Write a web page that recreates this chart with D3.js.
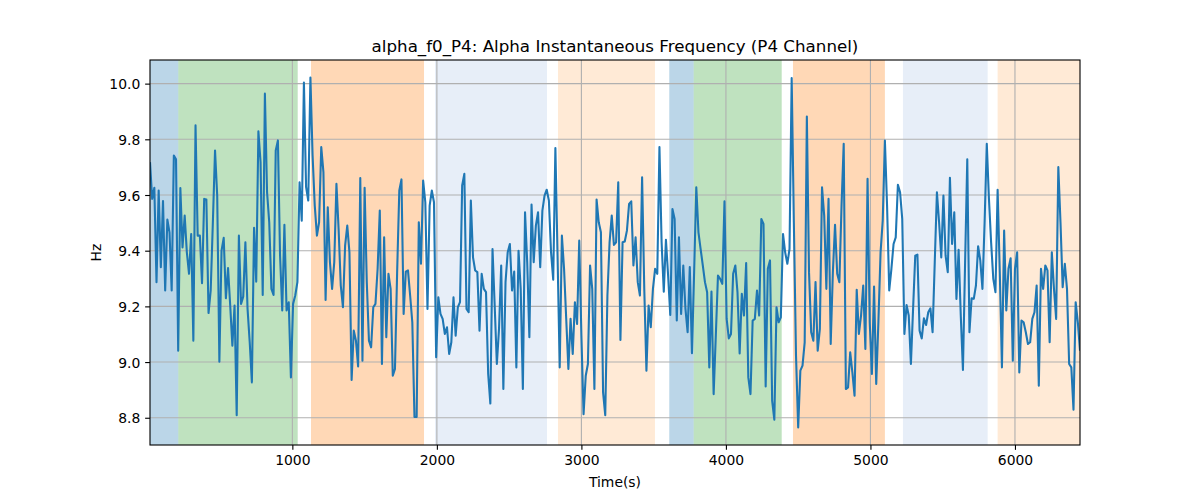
<!DOCTYPE html>
<html><head><meta charset="utf-8">
<script src="https://cdn.jsdelivr.net/npm/d3@7"></script>
<style>
body{margin:0;background:#fff}
svg{display:block}
text{font-family:"DejaVu Sans",sans-serif;fill:#000}
</style>
</head><body>
<svg id="chart" width="1200" height="500"></svg>
<script>
// ---- data ----
const titleText = "alpha_f0_P4: Alpha Instantaneous Frequency (P4 Channel)";
const xLabel = "Time(s)";
const yLabel = "Hz";
const T0 = 15;   // first sample time (s)
const DT = 15;   // sample step (s)
const values = [
9.718,9.586,9.626,9.287,9.616,9.341,9.578,9.257,9.512,9.466,
9.257,9.742,9.728,9.041,9.625,9.412,9.526,9.394,9.317,9.460,
9.077,9.850,9.454,9.454,9.283,9.586,9.584,9.176,9.257,9.502,
9.760,9.598,9.001,9.400,9.446,9.229,9.338,9.203,9.059,9.203,
8.809,9.454,9.209,9.235,9.430,9.191,9.071,8.927,9.482,9.289,
9.829,9.718,9.241,9.964,
9.610,9.502,9.263,9.241,9.760,9.796,9.382,9.185,9.493,9.185,
9.215,8.945,9.209,9.239,9.287,9.646,9.508,10.004,9.628,9.580,
10.022,9.742,9.562,9.454,9.502,9.772,9.682,9.223,9.556,9.359,
9.263,9.359,9.640,9.478,9.275,9.197,9.418,9.490,9.394,8.936,
9.113,9.077,8.984,9.661,9.005,9.626,9.287,9.077,9.053,9.197,
9.209,9.335,9.544,8.993,9.448,
9.089,9.317,9.263,8.951,8.975,9.323,9.616,9.656,9.173,9.325,
9.329,9.239,9.143,8.803,8.803,9.502,9.353,9.652,9.574,9.191,
9.562,9.616,9.574,9.017,9.233,9.173,9.155,9.101,9.125,9.029,
9.071,9.233,9.095,9.197,9.215,9.634,9.676,9.191,9.179,9.580,
9.376,9.329,9.323,9.113,9.317,9.263,9.251,8.957,8.851,9.406,
9.203,8.993,9.119,9.347,8.903,9.287,
9.394,9.424,9.257,9.325,8.981,9.400,9.263,8.903,9.538,9.359,
9.089,9.566,9.359,9.490,9.538,9.341,9.544,9.598,9.619,9.580,
9.394,9.296,9.769,9.382,8.981,9.454,9.335,9.155,8.975,9.155,
9.029,9.215,9.137,9.436,9.095,8.813,8.951,8.993,9.347,9.263,
8.903,9.584,9.502,9.466,8.891,8.809,9.239,9.430,9.526,9.421,
9.430,9.646,9.079,9.430,9.433,
9.472,9.568,9.577,9.347,9.448,9.287,9.239,9.664,9.263,8.969,
9.203,9.125,9.263,9.335,9.317,9.772,9.430,9.253,9.439,9.311,
9.169,9.550,9.514,9.149,9.448,9.173,9.347,9.191,9.107,9.341,
9.032,9.323,9.628,9.466,9.406,9.347,9.287,9.251,8.981,9.253,
8.885,9.095,9.311,9.299,9.281,9.577,9.155,9.085,9.101,9.317,
9.347,9.251,9.031,9.245,9.167,
9.356,8.945,8.885,9.149,9.155,9.257,9.167,9.514,9.496,8.912,
9.335,9.365,8.861,8.793,9.197,9.143,9.161,9.460,9.394,9.353,
9.406,10.020,9.502,9.023,8.765,8.969,8.987,9.071,9.882,9.323,
9.107,9.077,9.287,9.041,9.119,9.628,9.526,9.263,9.586,9.065,
9.323,9.493,9.317,9.287,9.562,9.784,8.903,8.909,9.035,8.963,
8.879,9.260,9.101,9.167,9.275,9.047,
9.658,9.143,8.957,9.271,8.921,9.143,9.394,9.508,9.796,9.562,
9.257,9.335,9.424,9.448,9.637,9.610,9.514,9.101,9.205,9.167,
8.993,9.191,9.382,9.386,9.113,9.085,9.157,9.133,9.179,9.193,
9.107,9.359,9.610,9.502,9.376,9.598,9.382,9.323,9.662,9.424,
9.538,9.227,9.403,9.167,8.972,9.359,9.728,9.107,9.229,9.227,
9.275,9.416,9.365,9.263,
9.502,9.784,9.586,9.430,9.299,9.251,9.619,9.323,8.981,9.472,
9.185,9.335,9.373,9.005,9.335,9.394,8.963,9.149,9.143,9.107,
9.065,9.071,9.155,9.179,9.275,8.915,9.335,9.263,9.347,9.329,
9.071,9.394,9.263,9.155,9.700,9.502,9.269,9.353,9.263,8.993,
8.981,8.829,9.215,9.143,9.041
];
const times = values.map((_, i) => T0 + i * DT);

// shaded state spans (s)
const spanStart = [15, 211, 1129, 1987, 2838, 3608, 3777, 4464, 5225, 5880];
const spanEnd   = [211, 1037, 1911, 2762, 3509, 3777, 4386, 5100, 5811, 6450];
const spanState = [0, 1, 2, 3, 4, 0, 1, 2, 3, 4];

const xTicks = [1000, 2000, 3000, 4000, 5000, 6000];
const yTicks = [8.8, 9.0, 9.2, 9.4, 9.6, 9.8, 10.0];

// ---- style ----
const stateColors = ["#1f77b4", "#2ca02c", "#ff7f0e", "#aec7e8", "#ffbb78"];
const M = {l: 150, r: 1080, t: 60, b: 445};
const PT = 100 / 72;

const svg = d3.select("#chart");
const x = d3.scaleLinear().domain([times[0], times[times.length - 1]]).range([M.l, M.r]);
const [lo, hi] = d3.extent(values);
const pad = (hi - lo) * 0.05;
const y = d3.scaleLinear().domain([lo - pad, hi + pad]).range([M.b, M.t]);

svg.append("defs").append("clipPath").attr("id", "clip")
  .append("rect").attr("x", M.l).attr("y", M.t).attr("width", M.r - M.l).attr("height", M.b - M.t);

const plot = svg.append("g").attr("clip-path", "url(#clip)");

// spans
plot.append("g").selectAll("rect").data(spanStart.map((s, i) => ({s, e: spanEnd[i], k: spanState[i]})))
  .join("rect")
  .attr("x", d => x(d.s)).attr("width", d => x(d.e) - x(d.s))
  .attr("y", M.t).attr("height", M.b - M.t)
  .attr("fill", d => stateColors[d.k]).attr("fill-opacity", 0.3);

// grid
const grid = svg.append("g").attr("stroke", "#b0b0b0").attr("stroke-width", 0.8 * PT);
grid.selectAll(".gx").data(xTicks).join("line")
  .attr("x1", d => x(d)).attr("x2", d => x(d)).attr("y1", M.t).attr("y2", M.b);
grid.selectAll(".gy").data(yTicks).join("line")
  .attr("x1", M.l).attr("x2", M.r).attr("y1", d => y(d)).attr("y2", d => y(d));

// line
svg.append("g").attr("clip-path", "url(#clip)").append("path")
  .datum(values.map((v, i) => [times[i], v]))
  .attr("fill", "none").attr("stroke", "#1f77b4").attr("stroke-width", 1.5 * PT)
  .attr("stroke-linejoin", "round").attr("stroke-linecap", "butt")
  .attr("d", d3.line().x(d => x(d[0])).y(d => y(d[1])));

// axes
const TL = 3.5 * PT;
const xAxis = svg.append("g").attr("transform", `translate(0,${M.b})`)
  .call(d3.axisBottom(x).tickValues(xTicks).tickSize(TL).tickPadding(TL).tickFormat(d3.format("d")));
const yAxis = svg.append("g").attr("transform", `translate(${M.l},0)`)
  .call(d3.axisLeft(y).tickValues(yTicks).tickSize(TL).tickPadding(TL).tickFormat(d3.format(".1f")));
[xAxis, yAxis].forEach(a => {
  a.select(".domain").remove();
  a.selectAll(".tick line").attr("stroke", "#000").attr("stroke-width", 0.8 * PT);
  a.selectAll(".tick text").attr("font-size", "13.9px").attr("font-family", "DejaVu Sans").attr("fill", "#000");
});
xAxis.selectAll(".tick text").attr("dy", null).attr("y", 2 * TL + 10.6);
yAxis.selectAll(".tick text").attr("dy", "0.36em");

// spines
svg.append("rect").attr("x", M.l).attr("y", M.t).attr("width", M.r - M.l).attr("height", M.b - M.t)
  .attr("fill", "none").attr("stroke", "#000").attr("stroke-width", 0.8 * PT);

// labels
svg.append("text").attr("x", (M.l + M.r) / 2).attr("y", M.t - 6 * PT).attr("text-anchor", "middle")
  .attr("font-size", "16.7px").text(titleText);
svg.append("text").attr("x", (M.l + M.r) / 2).attr("y", 487).attr("text-anchor", "middle")
  .attr("font-size", "13.9px").text(xLabel);
svg.append("text").attr("transform", `translate(101,${(M.t + M.b) / 2}) rotate(-90)`)
  .attr("text-anchor", "middle").attr("font-size", "13.9px").text(yLabel);
</script>
</body></html>
